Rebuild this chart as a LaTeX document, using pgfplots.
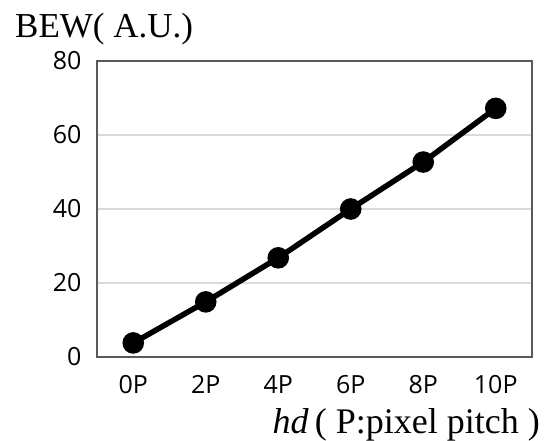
\documentclass[border=0pt]{standalone}
\usepackage{fontspec}
\setmainfont{Liberation Serif}
\newfontfamily\ticksans{Open Sans}
\usepackage{pgfplots}
\pgfplotsset{compat=1.18}
\definecolor{axisgray}{HTML}{595959}
\definecolor{gridgray}{HTML}{D9D9D9}
\begin{document}
\begin{tikzpicture}
\begin{axis}[
    scale only axis,
    width=435bp, height=296bp,
    xmin=-0.5, xmax=5.5,
    ymin=0, ymax=80,
    xtick={0,1,2,3,4,5},
    xticklabels={0P,2P,4P,6P,8P,10P},
    ytick={0,20,40,60,80},
    major tick length=0pt,
    ymajorgrids,
    grid style={gridgray, line width=1.2bp},
    axis line style={axisgray, line width=1.5bp},
    /pgf/number format/assume math mode=true,
    ticklabel style={font=\ticksans\fontsize{25bp}{25bp}\selectfont, text=black},
    xticklabel style={yshift=-15bp},
    yticklabel style={xshift=-12bp},
    clip=false,
]
\addplot[black, line width=5.5bp, mark=*, mark size=8bp] coordinates {
    (0, 3.8)
    (1, 14.9)
    (2, 26.8)
    (3, 40.0)
    (4, 52.7)
    (5, 67.2)
};
\node[anchor=base west, inner sep=0pt, font=\fontsize{35bp}{35bp}\selectfont]
    at ([xshift=-82bp, yshift=24bp]rel axis cs:0,1) {BEW( A.U.)};
\node[anchor=base east, inner sep=0pt, font=\fontsize{36bp}{36bp}\selectfont]
    at ([xshift=8bp, yshift=-76bp]rel axis cs:1,0) {\textit{hd}\,( P:pixel pitch )};
\end{axis}
\path (current axis.south west) ++(-97bp,-84bp) rectangle ++(552bp,441bp);
\end{tikzpicture}
\end{document}
